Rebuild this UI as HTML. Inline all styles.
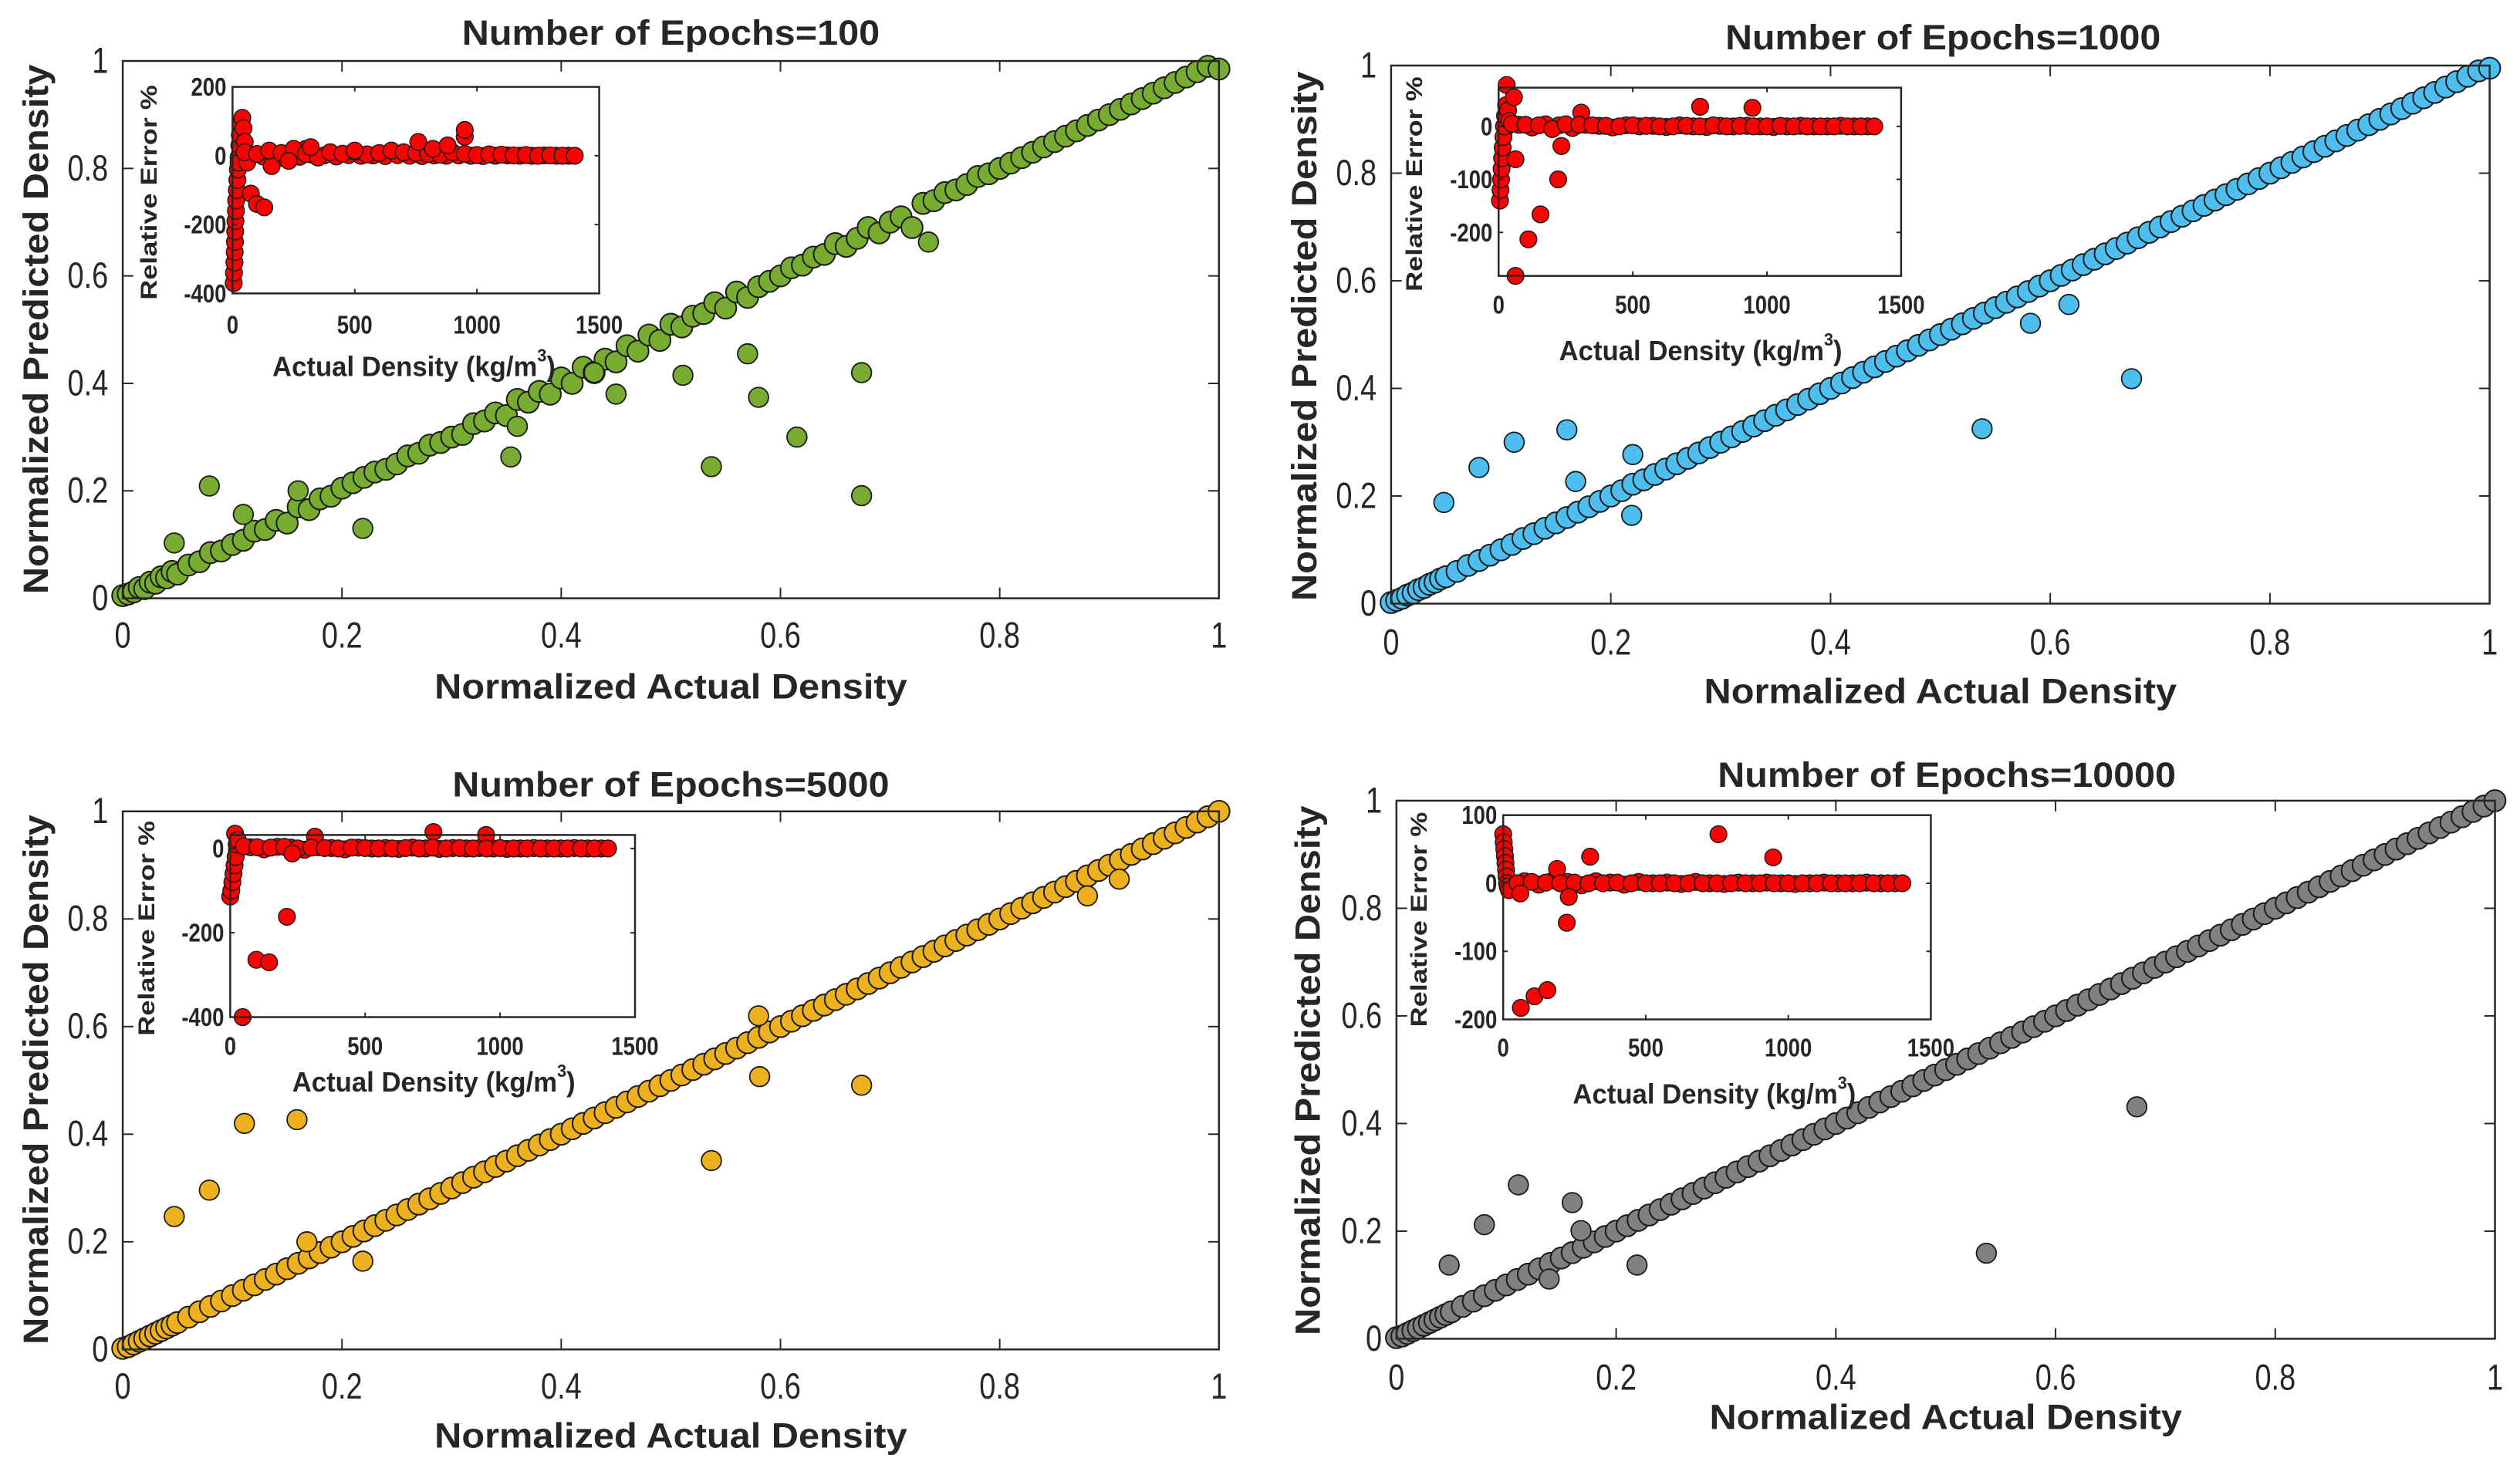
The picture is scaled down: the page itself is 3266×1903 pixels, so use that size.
<!DOCTYPE html>
<html><head><meta charset="utf-8"><style>
html,body{margin:0;padding:0;background:#fff;}
svg{display:block;font-family:"Liberation Sans",Arial,sans-serif;}
</style></head><body>
<svg id="chart" width="3266" height="1903" viewBox="0 0 3266 1903" xmlns="http://www.w3.org/2000/svg"></svg>
<script>
// ---- shared main data: normalized actual density ----
const actual = [0,0.005,0.01,0.015,0.02,0.025,0.03,0.035,0.04,0.045,0.05,0.06,0.07,0.08,0.09,0.1,0.11,0.12,0.13,0.14,0.15,0.16,0.17,0.18,0.19,0.2,0.21,0.22,0.23,0.24,0.25,0.26,0.27,0.28,0.29,0.3,0.31,0.32,0.33,0.34,0.35,0.36,0.37,0.38,0.39,0.4,0.41,0.42,0.43,0.44,0.45,0.46,0.47,0.48,0.49,0.5,0.51,0.52,0.53,0.54,0.55,0.56,0.57,0.58,0.59,0.6,0.61,0.62,0.63,0.64,0.65,0.66,0.67,0.68,0.69,0.7,0.71,0.72,0.73,0.74,0.75,0.76,0.77,0.78,0.79,0.8,0.81,0.82,0.83,0.84,0.85,0.86,0.87,0.88,0.89,0.9,0.91,0.92,0.93,0.94,0.95,0.96,0.97,0.98,0.99,1.0];
const pred100 = [0.005,0.008,0.012,0.02,0.018,0.03,0.028,0.04,0.038,0.05,0.045,0.062,0.068,0.085,0.088,0.1,0.108,0.125,0.128,0.145,0.14,0.17,0.165,0.185,0.19,0.205,0.215,0.225,0.235,0.24,0.25,0.265,0.27,0.285,0.29,0.3,0.305,0.325,0.33,0.345,0.34,0.37,0.365,0.385,0.38,0.41,0.4,0.43,0.42,0.445,0.44,0.47,0.46,0.49,0.48,0.51,0.505,0.525,0.53,0.55,0.54,0.57,0.56,0.58,0.59,0.6,0.615,0.62,0.635,0.64,0.66,0.655,0.67,0.69,0.68,0.7,0.71,0.69,0.735,0.74,0.755,0.76,0.77,0.785,0.79,0.8,0.81,0.82,0.83,0.84,0.85,0.86,0.87,0.88,0.89,0.9,0.91,0.92,0.93,0.94,0.95,0.96,0.97,0.98,0.99,0.985];
const pred1000 = [0.002,0.006,0.01,0.016,0.02,0.026,0.03,0.036,0.04,0.046,0.05,0.06,0.071,0.08,0.09,0.1,0.11,0.121,0.13,0.14,0.15,0.16,0.17,0.18,0.19,0.2,0.21,0.222,0.23,0.24,0.25,0.26,0.27,0.28,0.29,0.3,0.31,0.32,0.33,0.34,0.35,0.36,0.37,0.38,0.39,0.4,0.41,0.42,0.43,0.44,0.45,0.46,0.47,0.48,0.49,0.5,0.51,0.52,0.53,0.54,0.55,0.56,0.57,0.58,0.59,0.6,0.61,0.62,0.63,0.64,0.65,0.66,0.67,0.68,0.69,0.7,0.71,0.72,0.73,0.74,0.75,0.76,0.77,0.78,0.79,0.8,0.81,0.82,0.83,0.84,0.85,0.86,0.87,0.88,0.89,0.9,0.91,0.92,0.93,0.94,0.95,0.96,0.97,0.98,0.99,0.995];
const pred5000 = [0.002,0.005,0.01,0.015,0.02,0.025,0.03,0.035,0.04,0.045,0.05,0.06,0.07,0.08,0.09,0.1,0.11,0.12,0.13,0.14,0.15,0.16,0.17,0.18,0.19,0.2,0.21,0.22,0.23,0.24,0.25,0.26,0.27,0.28,0.29,0.3,0.31,0.32,0.33,0.34,0.35,0.36,0.37,0.38,0.39,0.4,0.41,0.42,0.43,0.44,0.45,0.46,0.47,0.48,0.49,0.5,0.51,0.52,0.53,0.54,0.55,0.56,0.57,0.58,0.59,0.6,0.61,0.62,0.63,0.64,0.65,0.66,0.67,0.68,0.69,0.7,0.71,0.72,0.73,0.74,0.75,0.76,0.77,0.78,0.79,0.8,0.81,0.82,0.83,0.84,0.85,0.86,0.87,0.88,0.89,0.9,0.91,0.92,0.93,0.94,0.95,0.96,0.97,0.98,0.99,1.0];
const pred10000 = [0.002,0.005,0.01,0.015,0.02,0.025,0.03,0.035,0.04,0.045,0.05,0.06,0.07,0.08,0.09,0.1,0.11,0.12,0.13,0.14,0.15,0.16,0.17,0.18,0.19,0.2,0.21,0.22,0.23,0.24,0.25,0.26,0.27,0.28,0.29,0.3,0.31,0.32,0.33,0.34,0.35,0.36,0.37,0.38,0.39,0.4,0.41,0.42,0.43,0.44,0.45,0.46,0.47,0.48,0.49,0.5,0.51,0.52,0.53,0.54,0.55,0.56,0.57,0.58,0.59,0.6,0.61,0.62,0.63,0.64,0.65,0.66,0.67,0.68,0.69,0.7,0.71,0.72,0.73,0.74,0.75,0.76,0.77,0.78,0.79,0.8,0.81,0.82,0.83,0.84,0.85,0.86,0.87,0.88,0.89,0.9,0.91,0.92,0.93,0.94,0.95,0.96,0.97,0.98,0.99,1.0];
const out100X = [0.674,0.674,0.615,0.537,0.58,0.57,0.079,0.047,0.11,0.219,0.735,0.511,0.354,0.16,0.45,0.43,0.36];
const out100Y = [0.191,0.42,0.30,0.245,0.374,0.455,0.209,0.103,0.156,0.13,0.663,0.415,0.263,0.2,0.38,0.42,0.32];
const out1000X = [0.674,0.538,0.582,0.617,0.048,0.08,0.112,0.16,0.168,0.219,0.22];
const out1000Y = [0.418,0.325,0.521,0.556,0.188,0.253,0.30,0.323,0.227,0.164,0.277];
const out5000X = [0.674,0.537,0.581,0.047,0.079,0.111,0.159,0.219,0.88,0.909,0.168,0.58];
const out5000Y = [0.491,0.351,0.507,0.247,0.296,0.42,0.427,0.164,0.843,0.874,0.2,0.62];
const out10000X = [0.674,0.537,0.048,0.08,0.111,0.16,0.168,0.219,0.139];
const out10000Y = [0.431,0.159,0.137,0.212,0.286,0.253,0.201,0.137,0.111];
const inX100 = [5,6,8,9,10,11,12,14,15,18,20,22,25,28,30,35,40,45,50,60,75,100,130,160,220,300,50,100,150,200,250,300,350,400,450,500,550,600,650,700,750,800,850,900,950,1000,1050,1100,1150,1200,1250,1300,1350,1400,760,820,880,950,950,320,500,230];
const inE100 = [-370,-340,-310,-280,-250,-220,-190,-160,-130,-100,-70,-40,-20,30,60,90,110,80,40,-20,-110,-140,-150,-30,-10,20,10,5,15,8,20,5,-5,10,6,12,4,8,15,10,8,5,3,10,5,2,4,3,1,2,0,1,0,0,40,20,30,55,75,25,15,-15];
const inX1000 = [5,7,9,11,13,15,18,20,24,28,30,35,40,57,63,63,111,156,222,234,308,50,100,150,200,250,300,350,400,450,500,550,600,650,700,750,800,850,900,950,1000,1050,1100,1150,1200,1250,1300,1350,1400,751,946];
const inE1000 = [-140,-120,-100,-80,-60,-40,-20,0,20,40,78,30,10,55,-282,-62,-213,-166,-100,-37,26,5,3,2,-5,4,3,2,1,0,2,1,0,0,1,0,2,0,1,0,0,1,0,0,0,0,0,0,0,37,35];
const inX5000 = [0,4,8,12,16,18,20,24,28,46,97,144,210,314,753,948,50,100,150,200,250,300,350,400,450,500,550,600,650,700,750,800,850,900,950,1000,1050,1100,1150,1200,1250,1300,1350,1400,230];
const inE5000 = [-114,-100,-80,-60,-40,35,-20,10,20,-400,-264,-270,-162,28,39,32,5,3,2,4,0,2,1,0,2,1,0,0,1,0,2,0,1,0,0,1,0,0,0,0,0,0,0,0,-12];
const inX10000 = [0,2,4,6,8,10,12,14,16,20,62,110,155,223,755,947,305,189,50,100,150,200,250,300,350,400,450,500,550,600,650,700,750,800,850,900,950,1000,1050,1100,1150,1200,1250,1300,1350,1400,230,60];
const inE10000 = [72,60,50,40,30,20,10,0,-5,-10,-183,-166,-157,-58,72,38,39,21,0,2,1,0,1,0,0,1,0,0,0,0,0,0,0,0,0,0,0,0,0,0,0,0,0,0,0,0,-20,-15];
// extra shared dense band of near-zero errors (all panels)
const bandX = [25,75,125,175,225,275,325,375,425,475,525,575,625,675,725,775,825,875,925,975,1025,1075,1125,1175,1225,1275,1325,1375];
const bandE = [-4,3,-2,4,2,-3,3,1,-2,2,0,1,-1,2,0,-1,1,0,1,0,-1,0,1,0,0,1,0,0];
const mainTicks = [0,0.2,0.4,0.6,0.8,1];
const mainTickLabels = ["0","0.2","0.4","0.6","0.8","1"];
const insetXTicks = [0,500,1000,1500];

const NS = "http://www.w3.org/2000/svg";
const svg = document.getElementById('chart');
function mk(tag, attrs, parent){
  const e = document.createElementNS(NS, tag);
  for (const k in attrs) e.setAttribute(k, attrs[k]);
  (parent||svg).appendChild(e);
  return e;
}
function txt(parent, s, x, y, size, weight, anchor, sx, rot, len){
  const g = mk('g', {transform:`translate(${x},${y}) rotate(${rot||0}) scale(${sx||1},1)`}, parent);
  const t = mk('text', {x:0, y:0, 'font-size':size, 'font-weight':weight, 'text-anchor':anchor, 'dominant-baseline':'central', fill:'#262626'}, g);
  if (len){ t.setAttribute('textLength', len); t.setAttribute('lengthAdjust','spacingAndGlyphs'); }
  t.textContent = s;
  return t;
}

const panels = [
  {name:'epochs-100', off:[0,0], title:'Number of Epochs=100', color:'#77AC30', pred:pred100, ox:out100X, oy:out100Y,
   ax:{x0:161,x1:1599,yb:785,yt:80}, titleY:43, titleX:880, titleW:548, ytlX:142, xtlY:834, xlY:901, ylX:47, ylY:432,
   ins:{x0:305,x1:786,yb:385,yt:114,ymin:-400,ymax:200,ticks:[-400,-200,0,200]}, inX:inX100, inE:inE100, itlY:426, ixlY:481, ixlX:543, iylX:196},
  {name:'epochs-1000', off:[1633,0], title:'Number of Epochs=1000', color:'#4DBEEE', pred:pred1000, ox:out1000X, oy:out1000Y,
   ax:{x0:1805,x1:3246,yb:792,yt:86}, titleY:49, titleX:2529, titleW:571, ytlX:1786, xtlY:843, xlY:907, ylX:1691, ylY:441,
   ins:{x0:1946,x1:2474,yb:362,yt:115,ymin:-282,ymax:73,ticks:[-200,-100,0]}, inX:inX1000, inE:inE1000, itlY:400, ixlY:460, ixlX:2211, iylX:1836},
  {name:'epochs-5000', off:[0,950], title:'Number of Epochs=5000', color:'#EDB120', pred:pred5000, ox:out5000X, oy:out5000Y,
   ax:{x0:161,x1:1599,yb:1759,yt:1053}, titleY:1018, titleX:880, titleW:573, ytlX:142, xtlY:1808, xlY:1872, ylX:47, ylY:1405,
   ins:{x0:302,x1:833,yb:1323,yt:1084,ymin:-400,ymax:32,ticks:[-400,-200,0]}, inX:inX5000, inE:inE5000, itlY:1361, ixlY:1408, ixlX:569, iylX:193},
  {name:'epochs-10000', off:[1633,950], title:'Number of Epochs=10000', color:'#808080', pred:pred10000, ox:out10000X, oy:out10000Y,
   ax:{x0:1812,x1:3253,yb:1745,yt:1039}, titleY:1005, titleX:2534, titleW:601, ytlX:1793, xtlY:1796, xlY:1848, ylX:1696, ylY:1393,
   ins:{x0:1952,x1:2513,yb:1326,yt:1058,ymin:-200,ymax:100,ticks:[-200,-100,0,100]}, inX:inX10000, inE:inE10000, itlY:1363, ixlY:1424, ixlX:2229, iylX:1842},
];

panels.forEach(p => {
  const [ox0, oy0] = p.off;
  const g = mk('g', {transform:`translate(${ox0},${oy0}) scale(0.988) translate(${-ox0},${-oy0})`});
  
  
  const A = p.ax;
  const sx = v => A.x0 + v*(A.x1-A.x0);
  const sy = v => A.yb - v*(A.yb-A.yt);
  const tt = txt(g, p.title, p.titleX, p.titleY, 46, 'bold', 'middle', 1, 0, p.titleW);
  
  
  mainTicks.forEach((v,i) => {
    const x = sx(v), y = sy(v);
    mk('line', {x1:x, y1:A.yb, x2:x, y2:A.yb-14, stroke:'#262626','stroke-width':2}, g);
    mk('line', {x1:x, y1:A.yt, x2:x, y2:A.yt+14, stroke:'#262626','stroke-width':2}, g);
    mk('line', {x1:A.x0, y1:y, x2:A.x0+14, y2:y, stroke:'#262626','stroke-width':2}, g);
    mk('line', {x1:A.x1, y1:y, x2:A.x1-14, y2:y, stroke:'#262626','stroke-width':2}, g);
    const xl = txt(g, mainTickLabels[i], x, p.xtlY, 48, 'normal', 'middle', 0.8);
    
    
    const yl = txt(g, mainTickLabels[i], p.ytlX, y, 48, 'normal', 'end', 0.8);
    
    
  });
  const xlab = txt(g, 'Normalized Actual Density', (A.x0+A.x1)/2, p.xlY, 46, 'bold', 'middle', 1, 0, 620);
  
  
  const ylab = txt(g, 'Normalized Predicted Density', p.ylX, p.ylY, 46, 'bold', 'middle', 1, -90, 695);
  
  
  const pts = mk('g', {}, g);
  
  
  const n = Math.min(actual.length, p.pred.length);
  for (let i=0;i<n;i++){
    const c = mk('circle', {cx:sx(actual[i]), cy:sy(p.pred[i]), r:14, fill:p.color, stroke:'#1a1a1a','stroke-width':2}, pts);
    
    
  }
  for (let i=0;i<Math.min(p.ox.length,p.oy.length);i++){
    const c = mk('circle', {cx:sx(p.ox[i]), cy:sy(p.oy[i]), r:13, fill:p.color, stroke:'#1a1a1a','stroke-width':1.8}, pts);
    
    
  }
  const fr = mk('rect', {x:A.x0, y:A.yt, width:A.x1-A.x0, height:A.yb-A.yt, fill:'none', stroke:'#262626','stroke-width':2.5}, g);
  
  

  const I = p.ins;
  const ig = mk('g', {}, g);
  
  
  const ix = v => I.x0 + v/1500*(I.x1-I.x0);
  const iy = v => I.yb - (v-I.ymin)/(I.ymax-I.ymin)*(I.yb-I.yt);
  mk('rect', {x:I.x0, y:I.yt, width:I.x1-I.x0, height:I.yb-I.yt, fill:'#fff', stroke:'none'}, ig);
  const ipts = mk('g', {}, ig);
  
  
  for (let i=0;i<Math.min(bandX.length,bandE.length);i++){
    const c = mk('circle', {cx:ix(bandX[i]), cy:iy(bandE[i]), r:11, fill:'#ff0000', stroke:'#1a1a1a','stroke-width':1.5}, ipts);
    
    
  }
  for (let i=0;i<Math.min(p.inX.length,p.inE.length);i++){
    const c = mk('circle', {cx:ix(p.inX[i]), cy:iy(p.inE[i]), r:11, fill:'#ff0000', stroke:'#1a1a1a','stroke-width':1.5}, ipts);
    
    
  }
  mk('rect', {x:I.x0, y:I.yt, width:I.x1-I.x0, height:I.yb-I.yt, fill:'none', stroke:'#262626','stroke-width':2.5}, ig);
  insetXTicks.forEach(v => {
    const x = ix(v);
    mk('line', {x1:x, y1:I.yb, x2:x, y2:I.yb-6, stroke:'#262626','stroke-width':2}, ig);
    mk('line', {x1:x, y1:I.yt, x2:x, y2:I.yt+6, stroke:'#262626','stroke-width':2}, ig);
    const l = txt(ig, String(v), x, p.itlY, 34, 'bold', 'middle', 0.82);
    
    
  });
  I.ticks.forEach(v => {
    const y = iy(v);
    mk('line', {x1:I.x0, y1:y, x2:I.x0+6, y2:y, stroke:'#262626','stroke-width':2}, ig);
    mk('line', {x1:I.x1, y1:y, x2:I.x1-6, y2:y, stroke:'#262626','stroke-width':2}, ig);
    const l = txt(ig, String(v), I.x0-8, y, 34, 'bold', 'end', 0.82);
    
    
  });
  const ixl = mk('g', {transform:`translate(${p.ixlX},${p.ixlY}) scale(0.95,1)`}, ig);
  
  
  const t1 = mk('text', {x:0, y:0, 'font-size':37, 'font-weight':'bold', 'text-anchor':'middle', 'dominant-baseline':'central', fill:'#262626'}, ixl);
  t1.appendChild(document.createTextNode('Actual Density (kg/m'));
  const sup = mk('tspan', {'font-size':23, dy:-15}, t1);
  sup.textContent = '3';
  const par = mk('tspan', {dy:15}, t1);
  par.textContent = ')';
  const iyl = txt(ig, 'Relative Error %', p.iylX, (I.yt+I.yb)/2 + 3, 30, 'bold', 'middle', 1, -90, 282);
  
  
});
</script>
</body></html>
